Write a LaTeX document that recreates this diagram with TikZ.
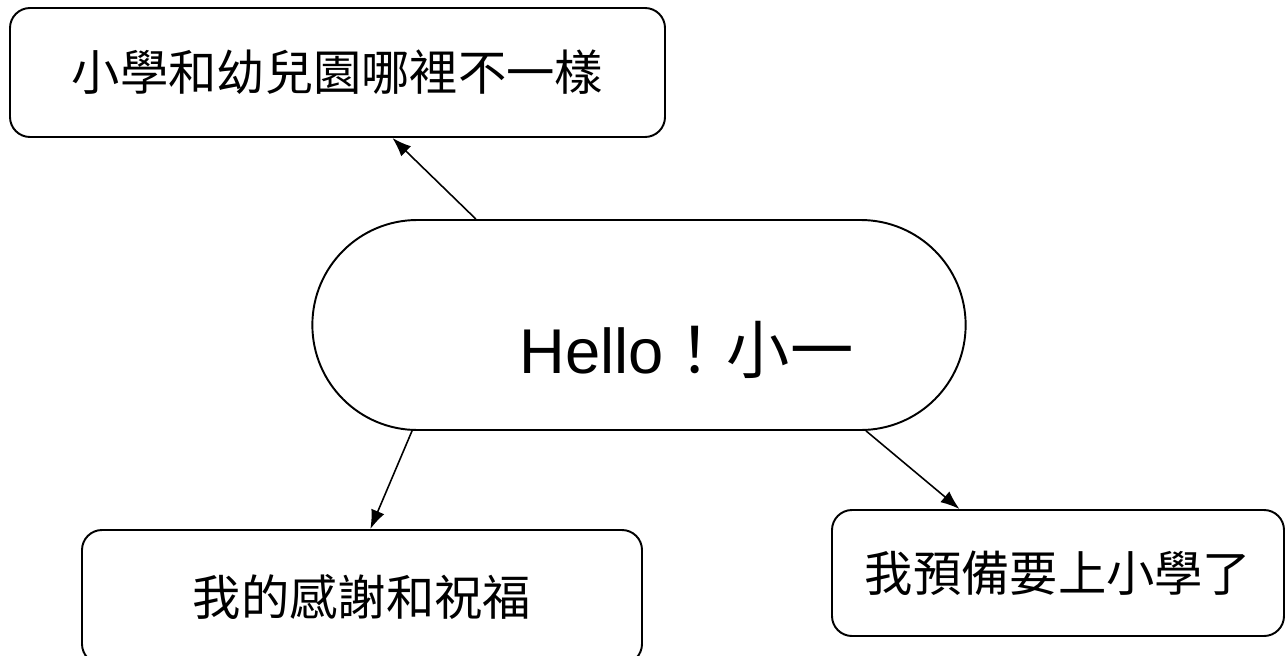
\documentclass[tikz,border=0pt]{standalone}
\usepackage{fontspec}
\setmainfont{Liberation Sans}
\newfontfamily\cjk{Noto Sans CJK TC}
\usetikzlibrary{arrows.meta,shapes.misc}
\begin{document}
\begin{tikzpicture}[
    box/.style={draw, line width=1.1pt, rounded corners=0.4cm, font=\cjk\fontsize{27.5}{32}\selectfont},
    link/.style={line width=0.9pt, -{Latex[length=3.8mm,width=2.8mm]}}
  ]
  \useasboundingbox (0,0) rectangle (25.72,-13.1);
  \node[draw, line width=1.1pt, rounded rectangle, minimum width=13.3cm, minimum height=4.2cm,
    font=\fontsize{36}{40}\selectfont] (hello) at (12.78,-6.5)
    {\raisebox{-0.97cm}[0pt][0pt]{\hspace*{1.9cm}Hello{\cjk ！小一}}};
  \node[box, minimum width=13.1cm, minimum height=2.58cm] (diff) at (6.75,-1.45) {小學和幼兒園哪裡不一樣};
  \node[box, minimum width=11.2cm, minimum height=2.68cm] (thanks) at (7.24,-11.94) {我的感謝和祝福};
  \node[box, minimum width=9.04cm, minimum height=2.52cm] (ready) at (21.16,-11.46) {我預備要上小學了};
  \draw[link] (hello.147.9) -- (diff.-50.2);
  \draw[link] (hello.205.8) -- (thanks.83);
  \draw[link] (hello.-25.5) -- (ready.147.2);
\end{tikzpicture}
\end{document}
